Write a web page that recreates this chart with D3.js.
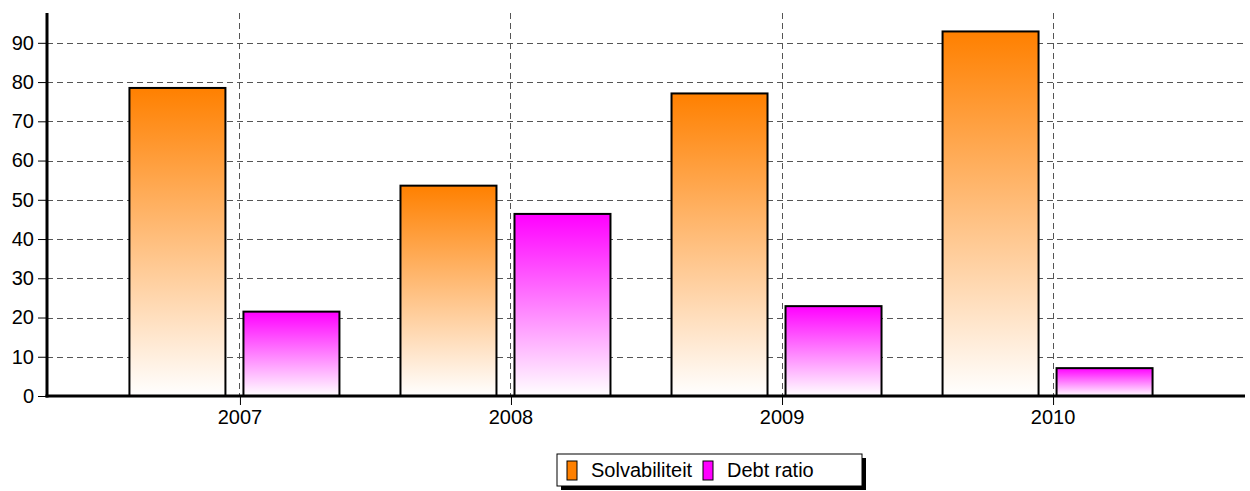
<!DOCTYPE html>
<html>
<head>
<meta charset="utf-8">
<script src="https://cdn.jsdelivr.net/npm/d3@7"></script>
<style>
  body { margin: 0; background: #fff; }
  text { font-family: "Liberation Sans", Arial, sans-serif; }
</style>
</head>
<body>
<div id="chart"></div>
<script>
// data
var years = ["2007", "2008", "2009", "2010"];
var seriesNames = ["Solvabiliteit", "Debt ratio"];
var solvabiliteit = [78.5, 53.6, 77.1, 92.9];
var debtRatio = [21.5, 46.4, 22.9, 7.1];
var yTicks = [0, 10, 20, 30, 40, 50, 60, 70, 80, 90];
var yMax = 97.6;

var seriesValues = [solvabiliteit, debtRatio];
var colors = ["#ff8000", "#ff00ff"];

var width = 1250, height = 491;
var plot = {left: 47, right: 1245, top: 13, bottom: 396};

var svg = d3.select("#chart").append("svg")
    .attr("width", width)
    .attr("height", height);

// gradients for the bars
var defs = svg.append("defs");
colors.forEach(function(c, i) {
  var g = defs.append("linearGradient")
      .attr("id", "grad" + i)
      .attr("x1", 0).attr("y1", 0).attr("x2", 0).attr("y2", 1);
  g.append("stop").attr("offset", "0%").attr("stop-color", c);
  g.append("stop").attr("offset", "100%").attr("stop-color", "#ffffff");
});

var x = d3.scalePoint()
    .domain(years)
    .range([plot.left, plot.right])
    .padding(0.71);

// bars sit a little left of the category line
var inner = d3.scaleBand()
    .domain(d3.range(seriesNames.length))
    .range([-110, 100])
    .paddingInner(0.158);

var y = d3.scaleLinear()
    .domain([0, yMax])
    .range([plot.bottom, plot.top]);

// horizontal grid
svg.append("g")
    .selectAll("line")
    .data(yTicks.filter(function(d) { return d > 0; }))
    .enter().append("line")
    .attr("x1", plot.left)
    .attr("x2", plot.right)
    .attr("y1", function(d) { return Math.round(y(d)) + 0.5; })
    .attr("y2", function(d) { return Math.round(y(d)) + 0.5; })
    .style("stroke", "#555")
    .style("stroke-width", 1)
    .style("stroke-dasharray", "6,4");

// vertical grid
svg.append("g")
    .selectAll("line")
    .data(years)
    .enter().append("line")
    .attr("x1", function(d) { return Math.round(x(d)) + 0.5; })
    .attr("x2", function(d) { return Math.round(x(d)) + 0.5; })
    .attr("y1", plot.top)
    .attr("y2", plot.bottom)
    .style("stroke", "#555")
    .style("stroke-width", 1)
    .style("stroke-dasharray", "6,4");

// bars
var groups = svg.append("g")
    .selectAll("g")
    .data(years)
    .enter().append("g")
    .attr("transform", function(d) { return "translate(" + x(d) + ",0)"; });

groups.selectAll("rect")
    .data(function(d, i) {
      return seriesValues.map(function(s, k) { return {k: k, v: s[i]}; });
    })
    .enter().append("rect")
    .attr("x", function(d) { return inner(d.k); })
    .attr("width", inner.bandwidth())
    .attr("y", function(d) { return y(d.v); })
    .attr("height", function(d) { return y(0) - y(d.v); })
    .style("fill", function(d) { return "url(#grad" + d.k + ")"; })
    .style("stroke", "#000")
    .style("stroke-width", 2);

// y axis
var yAxis = svg.append("g")
    .attr("transform", "translate(" + plot.left + ",0)")
    .call(d3.axisLeft(y).tickValues(yTicks).tickSize(9).tickPadding(4).tickSizeOuter(0));
yAxis.select(".domain").remove();
yAxis.selectAll(".tick line").style("stroke", "#000");
yAxis.selectAll(".tick text")
    .style("font-size", "20px")
    .attr("fill", "#000");
yAxis.append("line")
    .attr("x1", 0).attr("x2", 0)
    .attr("y1", plot.top).attr("y2", plot.bottom + 1.5)
    .style("stroke", "#000")
    .style("stroke-width", 3);

// x axis
var xAxis = svg.append("g")
    .attr("transform", "translate(0," + plot.bottom + ")")
    .call(d3.axisBottom(x).tickSize(9).tickPadding(5).tickSizeOuter(0));
xAxis.select(".domain").remove();
xAxis.selectAll(".tick line")
    .attr("transform", "translate(0.5,0)")
    .style("stroke", "#000");
xAxis.selectAll(".tick text")
    .style("font-size", "20px")
    .attr("fill", "#000");
xAxis.append("line")
    .attr("x1", plot.left - 1.5).attr("x2", plot.right)
    .attr("y1", 0).attr("y2", 0)
    .style("stroke", "#000")
    .style("stroke-width", 3);

// legend
var legend = svg.append("g").attr("transform", "translate(557,454)");
legend.append("rect")
    .attr("x", 4).attr("y", 4)
    .attr("width", 305).attr("height", 32)
    .style("fill", "#000");
legend.append("rect")
    .attr("x", 0).attr("y", 0)
    .attr("width", 305).attr("height", 32)
    .style("fill", "#fff")
    .style("stroke", "#000")
    .style("stroke-width", 1);

var legendX = [10, 146];
var items = legend.selectAll(".item")
    .data(seriesNames)
    .enter().append("g")
    .attr("class", "item")
    .attr("transform", function(d, i) { return "translate(" + legendX[i] + ",0)"; });
items.append("rect")
    .attr("x", 0).attr("y", 7)
    .attr("width", 10).attr("height", 19)
    .style("fill", function(d, i) { return colors[i]; })
    .style("stroke", "#000")
    .style("stroke-width", 1);
items.append("text")
    .attr("x", 24).attr("y", 23)
    .style("font-size", "20px")
    .attr("fill", "#000")
    .text(function(d) { return d; });
</script>
</body>
</html>
